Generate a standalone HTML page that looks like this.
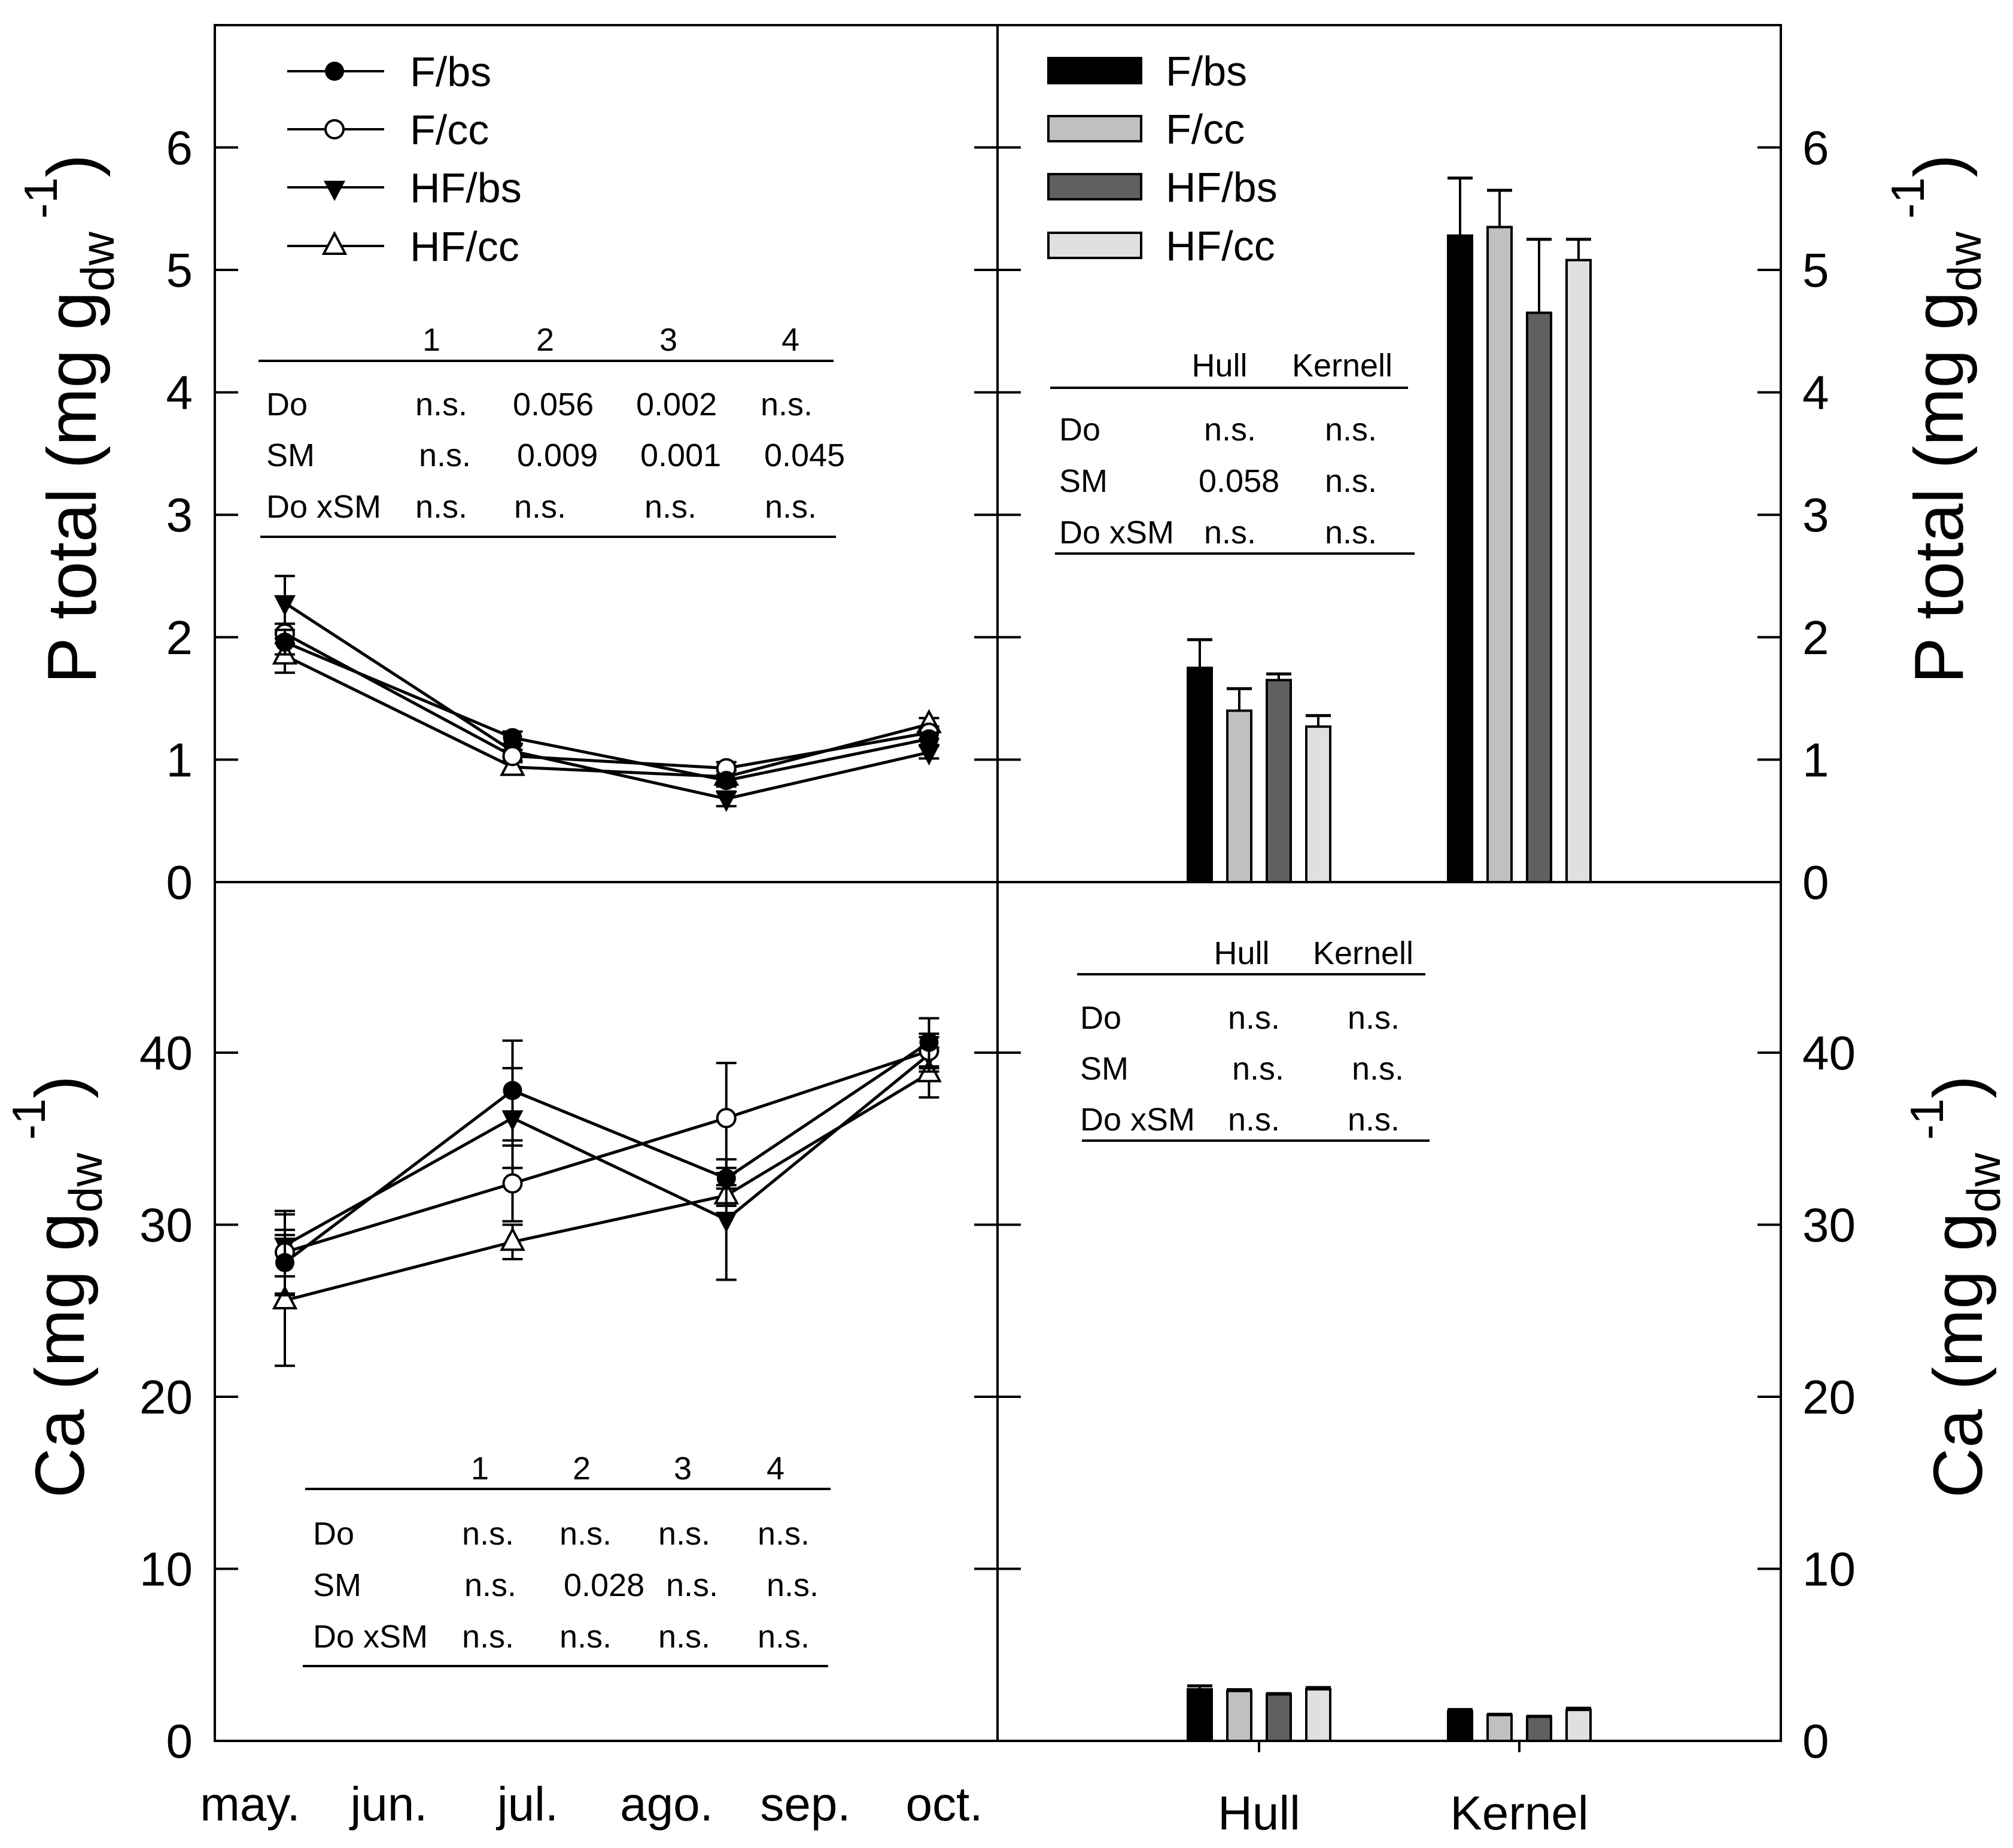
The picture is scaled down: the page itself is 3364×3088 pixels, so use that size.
<!DOCTYPE html>
<html><head><meta charset="utf-8"><style>
html,body{margin:0;padding:0;background:#fff;}
svg{display:block;font-family:"Liberation Sans",Arial,sans-serif;}
</style></head><body>
<svg id="fig" width="3364" height="3088" viewBox="0 0 3364 3088" xmlns="http://www.w3.org/2000/svg">
<rect x="0" y="0" width="3364" height="3088" fill="#fff"/>
<g id="marks"></g>
<g id="frame" fill="none" stroke="#000" stroke-width="4">
<rect x="359" y="42" width="2617" height="2867"/>
<line x1="359" y1="1474" x2="2976" y2="1474"/>
<line x1="1667" y1="42" x2="1667" y2="2909"/>
</g>
<g id="axes"></g>
<!-- Y axis titles -->
<text transform="translate(160,700) rotate(-90)" text-anchor="middle" font-size="116">P total (mg g<tspan font-size="78" dy="30">dw</tspan><tspan font-size="78" dy="-95"> -1</tspan><tspan dy="65">)</tspan></text>
<text transform="translate(140,2150) rotate(-90)" text-anchor="middle" font-size="116">Ca (mg g<tspan font-size="78" dy="30">dw</tspan><tspan font-size="78" dy="-95"> -1</tspan><tspan dy="65">)</tspan></text>
<text transform="translate(3280,700) rotate(-90)" text-anchor="middle" font-size="116">P total (mg g<tspan font-size="78" dy="30">dw</tspan><tspan font-size="78" dy="-95"> -1</tspan><tspan dy="65">)</tspan></text>
<text transform="translate(3312,2150) rotate(-90)" text-anchor="middle" font-size="116">Ca (mg g<tspan font-size="78" dy="30">dw</tspan><tspan font-size="78" dy="-95"> -1</tspan><tspan dy="65">)</tspan></text>

<!-- Left legend -->
<g font-size="70">
<g><line x1="480" y1="119" x2="642" y2="119" stroke="#000" stroke-width="4"/><circle cx="559" cy="119" r="16" fill="#000"/><text x="685" y="144">F/bs</text></g>
<g><line x1="480" y1="216" x2="642" y2="216" stroke="#000" stroke-width="4"/><circle cx="559" cy="216" r="15" fill="#fff" stroke="#000" stroke-width="4"/><text x="685" y="241">F/cc</text></g>
<g><line x1="480" y1="313" x2="642" y2="313" stroke="#000" stroke-width="4"/><polygon points="541,302 577,302 559,336" fill="#000"/><text x="685" y="338">HF/bs</text></g>
<g><line x1="480" y1="411" x2="642" y2="411" stroke="#000" stroke-width="4"/><polygon points="559,390 577,424 541,424" fill="#fff" stroke="#000" stroke-width="4"/><text x="685" y="436">HF/cc</text></g>
</g>
<!-- Right legend -->
<g font-size="70" stroke-width="4">
<g><rect x="1752" y="97" width="155" height="42" fill="#000" stroke="#000"/><text x="1948" y="143" stroke="none">F/bs</text></g>
<g><rect x="1752" y="194" width="155" height="42" fill="#c0c0c0" stroke="#000"/><text x="1948" y="240" stroke="none">F/cc</text></g>
<g><rect x="1752" y="291" width="155" height="42" fill="#606060" stroke="#000"/><text x="1948" y="337" stroke="none">HF/bs</text></g>
<g><rect x="1752" y="389" width="155" height="42" fill="#e0e0e0" stroke="#000"/><text x="1948" y="435" stroke="none">HF/cc</text></g>
</g>

<!-- Table P left -->
<g font-size="54">
<text x="721" y="586" text-anchor="middle">1</text><text x="911" y="586" text-anchor="middle">2</text><text x="1117" y="586" text-anchor="middle">3</text><text x="1321" y="586" text-anchor="middle">4</text>
<line x1="432" y1="603" x2="1393" y2="603" stroke="#000" stroke-width="4"/>
<text x="445" y="694">Do</text><text x="694" y="694">n.s.</text><text x="857" y="694">0.056</text><text x="1063" y="694">0.002</text><text x="1271" y="694">n.s.</text>
<text x="445" y="779">SM</text><text x="700" y="779">n.s.</text><text x="864" y="779">0.009</text><text x="1070" y="779">0.001</text><text x="1277" y="779">0.045</text>
<text x="445" y="865">Do xSM</text><text x="694" y="865">n.s.</text><text x="859" y="865">n.s.</text><text x="1077" y="865">n.s.</text><text x="1278" y="865">n.s.</text>
<line x1="435" y1="897" x2="1397" y2="897" stroke="#000" stroke-width="4"/>
</g>
<!-- Table Ca left -->
<g font-size="54">
<text x="802" y="2472" text-anchor="middle">1</text><text x="972" y="2472" text-anchor="middle">2</text><text x="1141" y="2472" text-anchor="middle">3</text><text x="1296" y="2472" text-anchor="middle">4</text>
<line x1="510" y1="2488" x2="1388" y2="2488" stroke="#000" stroke-width="4"/>
<text x="523" y="2581">Do</text><text x="772" y="2581">n.s.</text><text x="935" y="2581">n.s.</text><text x="1100" y="2581">n.s.</text><text x="1266" y="2581">n.s.</text>
<text x="523" y="2667">SM</text><text x="776" y="2667">n.s.</text><text x="942" y="2667">0.028</text><text x="1113" y="2667">n.s.</text><text x="1281" y="2667">n.s.</text>
<text x="523" y="2753">Do xSM</text><text x="772" y="2753">n.s.</text><text x="935" y="2753">n.s.</text><text x="1100" y="2753">n.s.</text><text x="1266" y="2753">n.s.</text>
<line x1="506" y1="2784" x2="1384" y2="2784" stroke="#000" stroke-width="4"/>
</g>
<!-- Table P right -->
<g font-size="54">
<text x="2038" y="629" text-anchor="middle">Hull</text><text x="2243" y="629" text-anchor="middle">Kernell</text>
<line x1="1755" y1="648" x2="2353" y2="648" stroke="#000" stroke-width="4"/>
<text x="1770" y="736">Do</text><text x="2012" y="736">n.s.</text><text x="2214" y="736">n.s.</text>
<text x="1770" y="822">SM</text><text x="2003" y="822">0.058</text><text x="2214" y="822">n.s.</text>
<text x="1770" y="908">Do xSM</text><text x="2012" y="908">n.s.</text><text x="2214" y="908">n.s.</text>
<line x1="1763" y1="925" x2="2364" y2="925" stroke="#000" stroke-width="4"/>
</g>
<!-- Table Ca right -->
<g font-size="54">
<text x="2075" y="1611" text-anchor="middle">Hull</text><text x="2278" y="1611" text-anchor="middle">Kernell</text>
<line x1="1800" y1="1628" x2="2382" y2="1628" stroke="#000" stroke-width="4"/>
<text x="1805" y="1719">Do</text><text x="2052" y="1719">n.s.</text><text x="2252" y="1719">n.s.</text>
<text x="1805" y="1804">SM</text><text x="2059" y="1804">n.s.</text><text x="2259" y="1804">n.s.</text>
<text x="1805" y="1889">Do xSM</text><text x="2052" y="1889">n.s.</text><text x="2252" y="1889">n.s.</text>
<line x1="1808" y1="1906" x2="2389" y2="1906" stroke="#000" stroke-width="4"/>
</g>
</svg>
<script>
// ---- data ----
const months = ["may.","jun.","jul.","ago.","sep.","oct."];
const sampleTimes = [0.25, 1.89, 3.43, 4.89]; // in month units
const seriesNames = ["F/bs","F/cc","HF/bs","HF/cc"];
const pFbs = [1.96, 1.18, 0.83, 1.17];
const pFcc = [2.03, 1.03, 0.93, 1.22];
const pHFbs = [2.28, 1.07, 0.68, 1.06];
const pHFcc = [1.85, 0.94, 0.86, 1.29];
const pErrFbs = [0.10, 0.05, 0.05, 0.05];
const pErrFcc = [0.08, 0.05, 0.05, 0.05];
const pErrHFbs = [0.22, 0.05, 0.06, 0.05];
const pErrHFcc = [0.14, 0.05, 0.05, 0.05];
const caFbs = [27.8, 37.8, 32.7, 40.6];
const caFcc = [28.4, 32.4, 36.2, 40.1];
const caHFbs = [28.8, 36.2, 30.3, 39.9];
const caHFcc = [25.6, 29.0, 31.7, 38.8];
const caErrFbs = [1.9, 2.9, 0.6, 1.4];
const caErrFcc = [2.4, 2.2, 3.2, 1.0];
const caErrHFbs = [1.8, 2.9, 3.5, 1.0];
const caErrHFcc = [3.8, 1.0, 0.6, 1.4];
const parts = ["Hull","Kernel"];
const pBarHull = [1.75, 1.40, 1.65, 1.27];
const pBarKernel = [5.28, 5.35, 4.65, 5.08];
const pBarErrHull = [0.23, 0.18, 0.05, 0.09];
const pBarErrKernel = [0.47, 0.30, 0.60, 0.17];
const caBarHull = [3.0, 2.9, 2.7, 3.0];
const caBarKernel = [1.7, 1.5, 1.4, 1.8];
const caBarErrHull = [0.2, 0.08, 0.05, 0.1];
const caBarErrKernel = [0.12, 0.05, 0.03, 0.1];
const pTicks = [0,1,2,3,4,5,6];
const caTicks = [0,10,20,30,40];

// ---- scales ----
const NS = "http://www.w3.org/2000/svg";
const P0 = 1474, PPX = 204.6;
const C0 = 2909, CPX = 28.75;
function yP(v){ return P0 - v*PPX; }
function yCa(v){ return C0 - v*CPX; }
function xM(m){ return 418 + m*232; }
function xPart(i){ return 2104 + i*435; }
const barColors = ["#000","#c0c0c0","#606060","#e0e0e0"];
const marks = document.getElementById("marks");
const axes = document.getElementById("axes");
function el(tag, attrs, parent){
  const e = document.createElementNS(NS, tag);
  for (const k in attrs) e.setAttribute(k, attrs[k]);
  (parent||marks).appendChild(e);
  return e;
}

// ---- axes ticks and labels ----
pTicks.forEach(t => {
  const y = yP(t);
  const a = el("line",{x1:359,y1:y,x2:398,y2:y,stroke:"#000","stroke-width":4},axes);
  
  
  const b = el("line",{x1:2937,y1:y,x2:2976,y2:y,stroke:"#000","stroke-width":4},axes);
  
  
  const c = el("line",{x1:1628,y1:y,x2:1706,y2:y,stroke:"#000","stroke-width":4},axes);
  
  
  const l = el("text",{x:322,y:y+28,"text-anchor":"end","font-size":80},axes);
  l.textContent = t;
  
  
  const r = el("text",{x:3012,y:y+28,"font-size":80},axes);
  r.textContent = t;
  
  
});
caTicks.forEach(t => {
  const y = yCa(t);
  if (t>0){
    const a = el("line",{x1:359,y1:y,x2:398,y2:y,stroke:"#000","stroke-width":4},axes);
    
    
    const b = el("line",{x1:2937,y1:y,x2:2976,y2:y,stroke:"#000","stroke-width":4},axes);
    
    
    const c = el("line",{x1:1628,y1:y,x2:1706,y2:y,stroke:"#000","stroke-width":4},axes);
    
    
  }
  const l = el("text",{x:322,y:y+28,"text-anchor":"end","font-size":80},axes);
  l.textContent = t;
  
  
  const r = el("text",{x:3012,y:y+28,"font-size":80},axes);
  r.textContent = t;
  
  
});
months.forEach((m,i) => {
  const t = el("text",{x:xM(i),y:3042,"text-anchor":"middle","font-size":80},axes);
  t.textContent = m;
  
  
});
parts.forEach((p,i) => {
  const x = xPart(i);
  const tk = el("line",{x1:x,y1:2909,x2:x,y2:2928,stroke:"#000","stroke-width":4},axes);
  
  
  const t = el("text",{x:x,y:3057,"text-anchor":"middle","font-size":80},axes);
  t.textContent = p;
  
  
});

// ---- line series ----
function drawSeries(vals, errs, yf, kind, name){
  const pts = vals.map((v,i)=>[xM(sampleTimes[i]), yf(v)]);
  const pl = el("polyline",{points:pts.map(p=>p.join(",")).join(" "),fill:"none",stroke:"#000","stroke-width":5});
  
  
  vals.forEach((v,i)=>{
    const x = pts[i][0], y1 = yf(v+errs[i]), y2 = yf(v-errs[i]);
    const g = el("path",{d:`M${x},${y1}V${y2}M${x-17},${y1}H${x+17}M${x-17},${y2}H${x+17}`,stroke:"#000","stroke-width":4,fill:"none"});
    
    
  });
  pts.forEach(([x,y])=>{
    let m;
    if (kind===0) m = el("circle",{cx:x,cy:y,r:16,fill:"#000"});
    else if (kind===1) m = el("circle",{cx:x,cy:y,r:15,fill:"#fff",stroke:"#000","stroke-width":4});
    else if (kind===2) m = el("polygon",{points:`${x-18},${y-13} ${x+18},${y-13} ${x},${y+22}`,fill:"#000"});
    else m = el("polygon",{points:`${x},${y-21} ${x+18},${y+13} ${x-18},${y+13}`,fill:"#fff",stroke:"#000","stroke-width":4});
    
    
  });
}
const pSeries = [pFbs,pFcc,pHFbs,pHFcc], pErrs = [pErrFbs,pErrFcc,pErrHFbs,pErrHFcc];
const caSeries = [caFbs,caFcc,caHFbs,caHFcc], caErrs = [caErrFbs,caErrFcc,caErrHFbs,caErrHFcc];
const tags = ["fbs","fcc","hfbs","hfcc"];
[3,2,1,0].forEach(k=>drawSeries(pSeries[k], pErrs[k], yP, k, 'p-'+tags[k]));
[3,2,1,0].forEach(k=>drawSeries(caSeries[k], caErrs[k], yCa, k, 'ca-'+tags[k]));

// ---- bars ----
function drawBars(vals, errs, yf, gi, name){
  vals.forEach((v,k)=>{
    const cx = xPart(gi) + (k-1.5)*66;
    const top = yf(v), base = yf(0), ey = yf(v+errs[k]);
    const e = el("line",{x1:cx,y1:top,x2:cx,y2:ey,stroke:"#000","stroke-width":4});
    
    
    const c = el("line",{x1:cx-21,y1:ey,x2:cx+21,y2:ey,stroke:"#000","stroke-width":5});
    
    
    const r = el("rect",{x:cx-20,y:top,width:40,height:base-top,fill:barColors[k],stroke:"#000","stroke-width":4});
    
    
  });
}
drawBars(pBarHull, pBarErrHull, yP, 0, 'p-hull');
drawBars(pBarKernel, pBarErrKernel, yP, 1, 'p-kernel');
drawBars(caBarHull, caBarErrHull, yCa, 0, 'ca-hull');
drawBars(caBarKernel, caBarErrKernel, yCa, 1, 'ca-kernel');
</script>
</body></html>
